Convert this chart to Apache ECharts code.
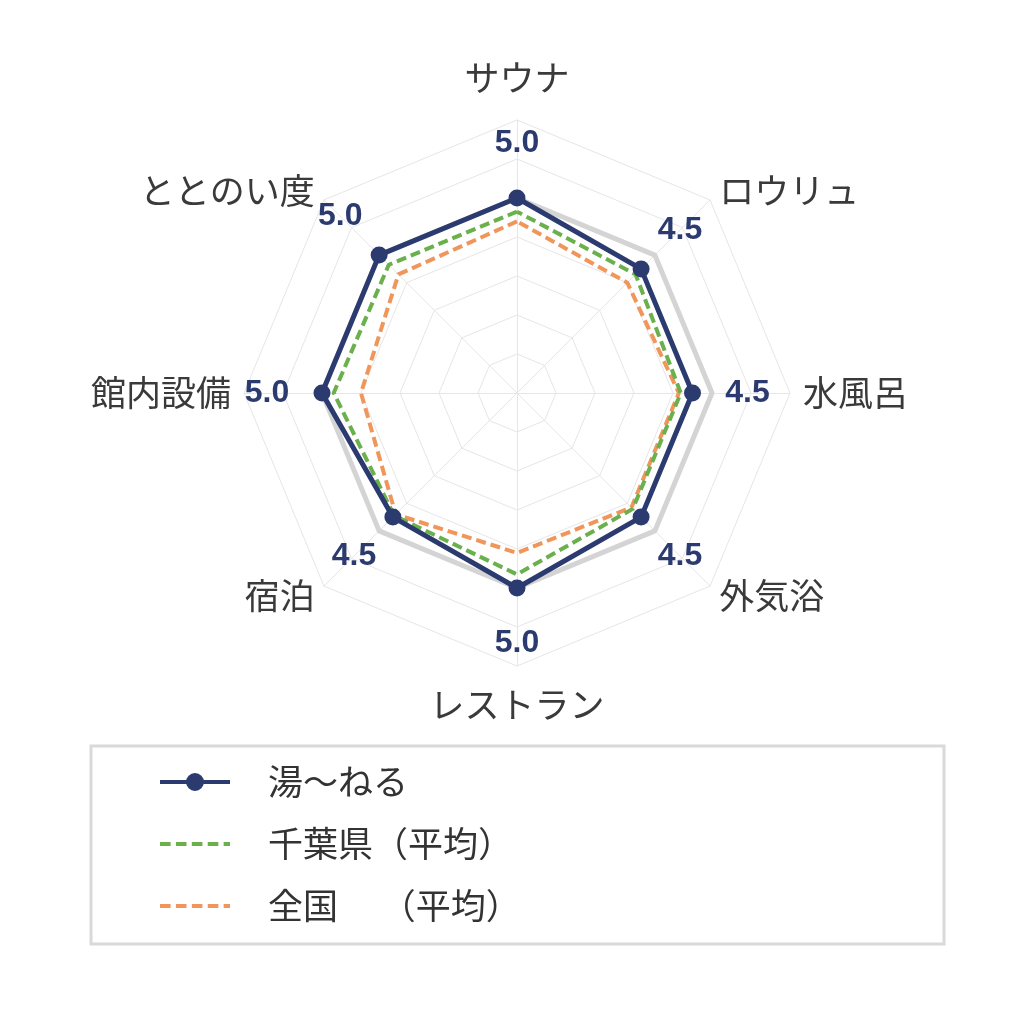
<!DOCTYPE html>
<html lang="ja">
<head>
<meta charset="UTF-8">
<title>サウナ評価</title>
<script src="https://cdn.jsdelivr.net/npm/echarts@6/dist/echarts.min.js"></script>
<style>
  html, body { margin: 0; padding: 0; background: #fff; }
  #chart { width: 1024px; height: 1024px; }
</style>
</head>
<body>
<div id="chart"></div>
<script>
// 指標（上から反時計回り）
var indicators = ['サウナ', 'ととのい度', '館内設備', '宿泊', 'レストラン', '外気浴', '水風呂', 'ロウリュ'];
var seriesNames = ['湯〜ねる', '千葉県（平均）', '全国\u3000 （平均）'];
var yunel = [5.0, 5.0, 5.0, 4.5, 5.0, 4.5, 4.5, 4.5];
var chiba = [4.65, 4.65, 4.7, 4.45, 4.65, 4.2, 4.2, 4.3];
var zenkoku = [4.4, 4.3, 4.0, 4.4, 4.1, 4.15, 4.15, 4.0];
var fullMark = [5, 5, 5, 5, 5, 5, 5, 5];
var axisMax = 7;

var NAVY = '#2b3a6f', GREEN = '#6ab04c', ORANGE = '#f0965a';
var CENTER = [517, 393], RADIUS = 273;

var chart = echarts.init(document.getElementById('chart'));

// 値ラベル用 [値, 指標番号]
var labelData = yunel.map(function (v, i) { return [v, i]; });

var option = {
    backgroundColor: '#fff',
    animation: false,
    radar: {
        center: CENTER,
        radius: RADIUS,
        startAngle: 90,
        splitNumber: axisMax,
        shape: 'polygon',
        indicator: indicators.map(function (n) { return { name: n, min: 0, max: axisMax }; }),
        nameGap: 13,
        axisName: {
            color: '#3a3a3a',
            fontSize: 35,
            fontFamily: 'Noto Sans CJK JP',
            // 上下の名前だけ少し離す
            formatter: function (name) {
                if (name === 'サウナ') return '{top|' + name + '}';
                if (name === 'レストラン') return '{bottom|' + name + '}';
                return name;
            },
            rich: {
                top: { fontSize: 35, color: '#3a3a3a', fontFamily: 'Noto Sans CJK JP', padding: [0, 0, 12, 0] },
                bottom: { fontSize: 35, color: '#3a3a3a', fontFamily: 'Noto Sans CJK JP', padding: [8, 0, 0, 0] }
            }
        },
        axisLine: { lineStyle: { color: '#e6e6e6', width: 1 } },
        splitLine: { lineStyle: { color: '#e6e6e6', width: 1 } },
        splitArea: { show: false }
    },
    // 値ラベルを置くための見えない極座標
    polar: { center: CENTER, radius: RADIUS },
    angleAxis: { type: 'value', min: 0, max: indicators.length, startAngle: 90, clockwise: false, show: false },
    radiusAxis: { type: 'value', min: 0, max: axisMax, show: false },
    legend: {
        orient: 'vertical',
        left: 160,
        top: 762,
        padding: 0,
        itemWidth: 70,
        itemHeight: 18,
        itemGap: 22,
        itemStyle: { borderWidth: 0 },
        textStyle: {
            color: '#333',
            fontSize: 35,
            lineHeight: 40,
            fontFamily: 'Noto Sans CJK JP',
            padding: [0, 0, 0, 33]
        },
        data: [
            { name: seriesNames[0], icon: 'path://M0,7H70V11H0Z M35,0A9,9 0 1 1 35,18A9,9 0 1 1 35,0Z' },
            { name: seriesNames[1], icon: 'path://M0,0H10V4H0Z M15,0H25V4H15Z M30,0H40V4H30Z M45,0H55V4H45Z M60,0H66V4H60Z' },
            { name: seriesNames[2], icon: 'path://M0,0H10V4H0Z M15,0H25V4H15Z M30,0H40V4H30Z M45,0H55V4H45Z M60,0H66V4H60Z' }
        ]
    },
    graphic: [{
        type: 'rect',
        shape: { x: 91, y: 746, width: 853, height: 198 },
        style: { fill: 'none', stroke: '#d9d9d9', lineWidth: 3 },
        silent: true
    }],
    series: [
        {
            type: 'radar',
            name: 'max',
            silent: true,
            symbol: 'none',
            lineStyle: { color: '#d4d4d4', width: 5 },
            itemStyle: { color: '#d4d4d4' },
            data: [{ name: 'max', value: fullMark }]
        },
        {
            type: 'radar',
            name: seriesNames[2],
            symbol: 'none',
            itemStyle: { color: ORANGE },
            lineStyle: { color: ORANGE, width: 4, type: [10, 5] },
            data: [{ name: seriesNames[2], value: zenkoku }]
        },
        {
            type: 'radar',
            name: seriesNames[1],
            symbol: 'none',
            itemStyle: { color: GREEN },
            lineStyle: { color: GREEN, width: 4, type: [10, 5] },
            data: [{ name: seriesNames[1], value: chiba }]
        },
        {
            type: 'radar',
            name: seriesNames[0],
            symbol: 'circle',
            symbolSize: 17,
            itemStyle: { color: NAVY },
            lineStyle: { color: NAVY, width: 5 },
            data: [{ name: seriesNames[0], value: yunel }]
        },
        {
            type: 'custom',
            coordinateSystem: 'polar',
            silent: true,
            data: labelData,
            renderItem: function (params, api) {
                var p = api.coord([api.value(0), api.value(1)]);
                var o = api.coord([0, api.value(1)]);
                var dx = p[0] - o[0], dy = p[1] - o[1];
                var len = Math.sqrt(dx * dx + dy * dy) || 1;
                var off = 55;
                return {
                    type: 'text',
                    x: p[0] + dx / len * off,
                    y: p[1] + dy / len * off,
                    style: {
                        text: api.value(0).toFixed(1),
                        fill: NAVY,
                        font: 'bold 32px "Liberation Sans", Arial, sans-serif',
                        align: 'center',
                        verticalAlign: 'middle'
                    }
                };
            }
        }
    ]
};

chart.setOption(option);
</script>
</body>
</html>
